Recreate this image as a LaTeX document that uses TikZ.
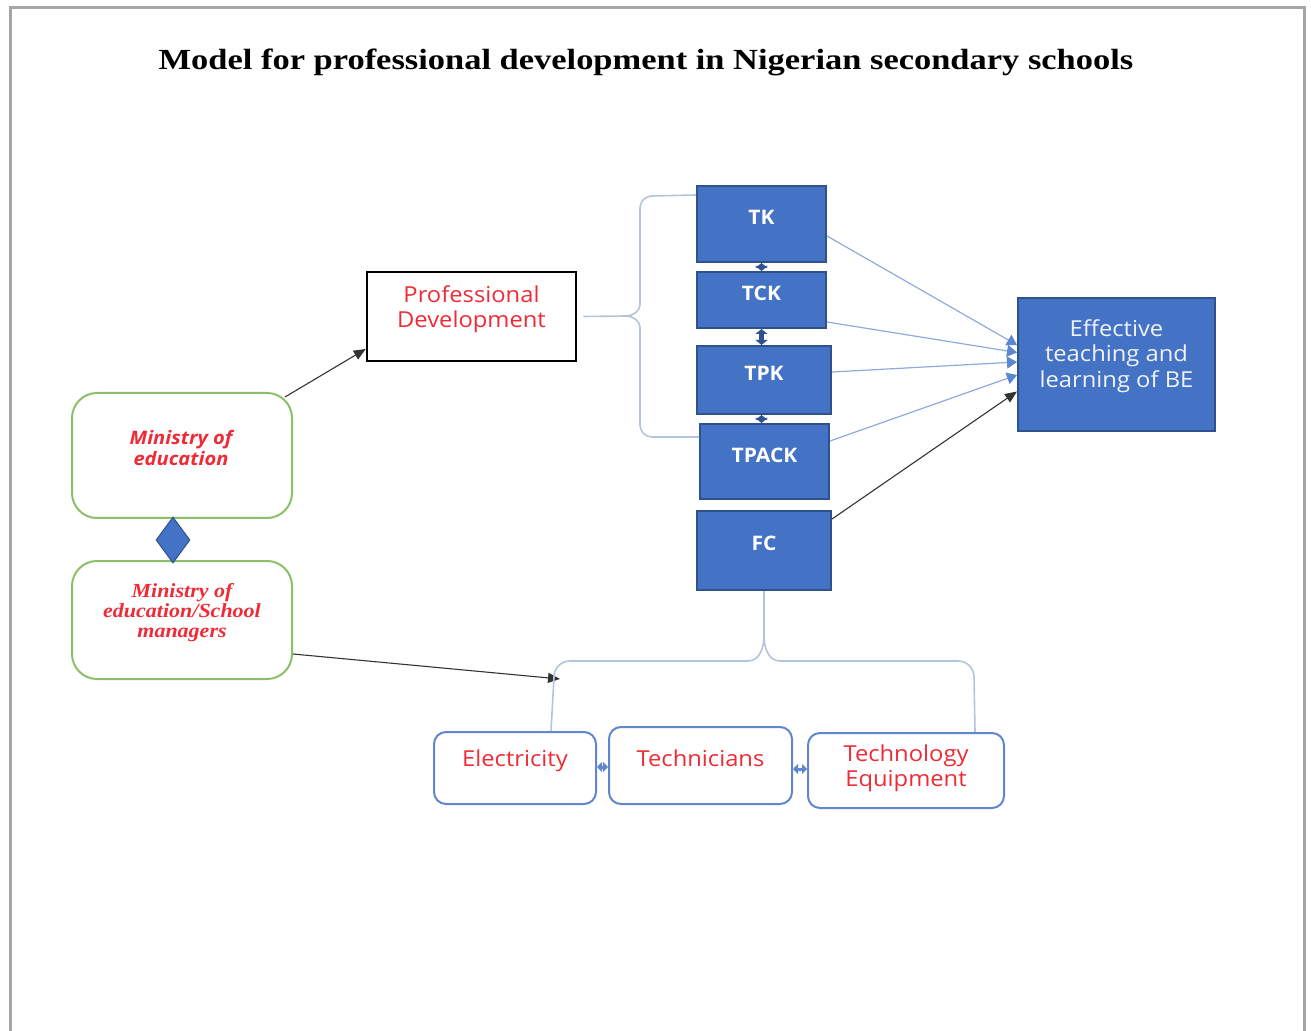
\documentclass[tikz,border=0pt]{standalone}
\usepackage{fontspec}
\setmainfont{Liberation Serif}
\newfontfamily\boxfont{Open Sans}
\usetikzlibrary{shapes.geometric,arrows.meta,calc}
\definecolor{bfill}{HTML}{4472C4}
\definecolor{bdraw}{HTML}{2F528F}
\definecolor{lblue}{HTML}{8FAADC}
\definecolor{brc}{HTML}{B4C3DE}
\definecolor{grn}{HTML}{8CC068}
\definecolor{rtx}{HTML}{EE2B36}
\definecolor{frm}{HTML}{A6A6A6}
\definecolor{tipc}{HTML}{5B86D0}
\tikzset{
  bluebox/.style={draw=bdraw, fill=bfill, line width=1pt, inner sep=0pt},
  bluetext/.style={text=white, font=\boxfont\bfseries\fontsize{10}{12}\selectfont, inner sep=0pt, xscale=1.05},
  redtext/.style={text=rtx, font=\boxfont\fontsize{11}{12.5}\selectfont, align=center, inner sep=0pt, xscale=1.08},
  whitetext/.style={text=white!92!bfill, font=\boxfont\fontsize{11}{12.8}\selectfont, align=center, inner sep=0pt, xscale=1.08},
  greenbox/.style={draw=grn, line width=1pt, rounded corners=12.5pt, inner sep=0pt, minimum width=110pt},
  outbox/.style={draw=bfill!85!white, line width=1pt, rounded corners=6pt, inner sep=0pt},
  flowline/.style={draw=lblue, line width=0.6pt, -{Triangle[width=6pt,length=5pt,color=tipc]}},
  blackline/.style={draw=black!80, line width=0.55pt, -{Triangle[width=5pt,length=6pt]}},
  bracel/.style={draw=brc, line width=0.8pt},
  tinyarrow/.style={draw=bdraw, line width=2.2pt, {Triangle[width=6pt,length=2.5pt]}-{Triangle[width=6pt,length=2.5pt]}},
  tinyarrowb/.style={draw=bfill!85!white, line width=1.5pt, {Triangle[width=5pt,length=2.5pt]}-{Triangle[width=5pt,length=2.5pt]}},
}
\begin{document}
\begin{tikzpicture}[x=0.5pt, y=-0.5pt]
\useasboundingbox (0,0) rectangle (1311,1031);
% page frame
\draw[frm, line width=1.5pt] (10,1040) -- (10,8) -- (1304,8) -- (1304,1040);
% title
\node[font=\bfseries\fontsize{14.6}{18}\selectfont, xscale=1.18] (title) at (646,62) {Model for professional development in Nigerian secondary schools};

% Professional development
\node[draw=black, line width=1.25pt, minimum width=104.5pt, minimum height=44.5pt, inner sep=0pt] (pd) at (471.5,316.5) {};
\node[redtext] (pdt) at (471.5,309.5) {Professional\\Development};

% blue blocks
\node[bluebox, minimum width=64.5pt, minimum height=38pt] (tk) at (761.5,224) {};
\node[bluetext] (tkt) at (761.5,217) {TK};
\node[bluebox, minimum width=64.5pt, minimum height=28pt] (tck) at (761.5,300) {};
\node[bluetext] (tckt) at (761.5,293) {TCK};
\node[bluebox, minimum width=67pt, minimum height=34pt] (tpk) at (764,380) {};
\node[bluetext] (tpkt) at (764,373) {TPK};
\node[bluebox, minimum width=64.5pt, minimum height=37.5pt] (tpack) at (764.5,461.5) {};
\node[bluetext] (tpackt) at (764.5,455) {TPACK};
\node[bluebox, minimum width=67pt, minimum height=39.5pt] (fc) at (764,550.5) {};
\node[bluetext] (fct) at (764,543) {FC};

% effective
\node[bluebox, minimum width=98.5pt, minimum height=66.5pt] (eff) at (1116.5,364.5) {};
\node[whitetext] (efft) at (1116.5,356) {Effective\\teaching and\\learning of BE};

% small arrows between blocks
\draw[tinyarrow] (tk.south) -- (tck.north);
\draw[tinyarrow] (tck.south) -- (tpk.north -| tck.south);
\draw[tinyarrow] (tpk.south -| tck.south) -- (tpack.north -| tck.south);

% arrows to effective
\draw[flowline] ($(tk.east)+(0,12)$) -- ($(eff.west)+(0,-19.5)$);
\draw[flowline] ($(tck.east)+(0,22)$) -- ($(eff.west)+(0,-12)$);
\draw[flowline] ($(tpk.east)+(0,-8)$) -- ($(eff.west)+(0,-2.5)$);
\draw[flowline] ($(tpack.east)+(0,-20.5)$) -- ($(eff.west)+(0,10.5)$);
\draw[blackline] ($(fc.east)+(0,-31.5)$) -- ($(eff.west)+(0,27)$);

% top brace
\draw[bracel] ($(tk.west)+(0,-29)$) -- (652,196) to[out=180,in=90] (640,208) -- (640,304)
  to[out=270,in=0] (626,316) -- ($(pd.east)+(6,0)$);
\draw[bracel] (626,316) to[out=0,in=90] (640,328) -- (640,425) to[out=270,in=180] (652,437) -- ($(tpack.west)+(0,-24.5)$);

% ministries
\node[greenbox, minimum height=62.5pt] (moe) at (182,455.5) {};
\node[text=rtx, font=\boxfont\bfseries\itshape\fontsize{9.3}{10.5}\selectfont, align=center, inner sep=0pt, xscale=1.08] (moet) at (181,447.5) {Ministry of\\education};
\node[greenbox, minimum height=59pt] (msm) at (182,620) {};
\node[text=rtx, font=\bfseries\itshape\fontsize{10}{10}\selectfont, align=center, inner sep=0pt, xscale=1.1] (msmt) at (182,613) {Ministry of\\education/School\\managers};
\node[diamond, fill=bfill, draw=bdraw, line width=0.5pt, inner sep=0pt, minimum width=17pt, minimum height=23pt] (dia) at (173,540) {};

\draw[blackline] ($(moe.north east)+(-8,5)$) -- ($(pd.west)+(0,32.5)$);
\coordinate (fcin) at (560,679);
\draw[blackline] ($(msm.east)+(0,34)$) -- (fcin);

% bottom boxes
\node[outbox, minimum width=81pt, minimum height=36pt] (elec) at (515,768) {};
\node[redtext] (elect) at (515,761) {Electricity};
\node[outbox, minimum width=91.5pt, minimum height=38.5pt] (tech) at (700.5,765.5) {};
\node[redtext] (techt) at (700.5,758) {Technicians};
\node[outbox, minimum width=98pt, minimum height=37.5pt] (teq) at (906,770.5) {};
\node[redtext] (teqt) at (906,768.5) {Technology\\Equipment};

\draw[tinyarrowb] ($(elec.east)+(0,-1)$) -- ($(tech.west)+(0,1.5)$);
\draw[tinyarrowb] ($(tech.east)+(0,3.5)$) -- ($(teq.west)+(0,-1.5)$);

% bottom brace
\draw[bracel] (fc.south) -- (764,636) to[out=270,in=0] (748,661) -- (570,661) to[out=180,in=90] (554,677) -- ($(elec.north)+(36,0)$);
\draw[bracel] (764,636) to[out=270,in=180] (780,661) -- (958,661) to[out=0,in=90] (974,677) -- ($(teq.north)+(69,0)$);
\end{tikzpicture}
\end{document}
